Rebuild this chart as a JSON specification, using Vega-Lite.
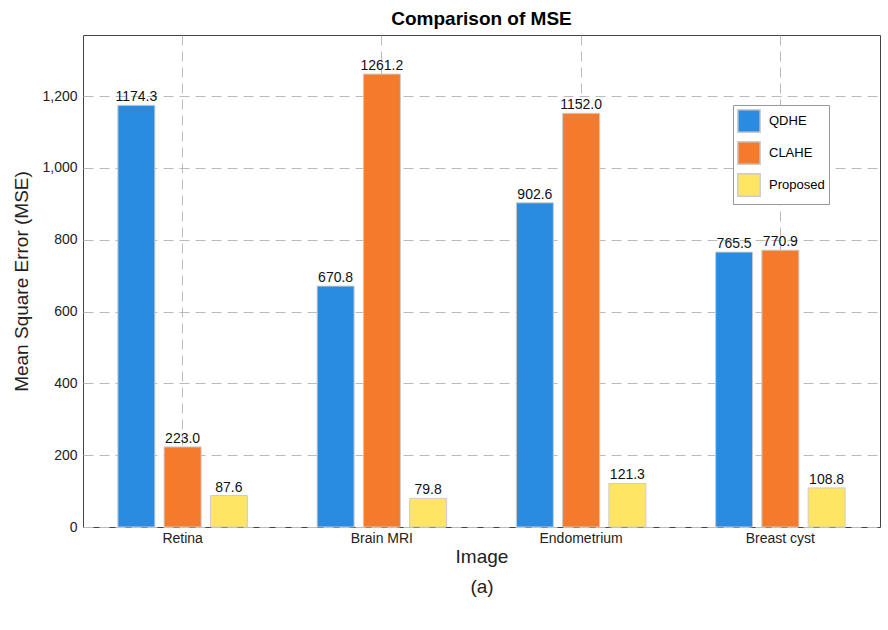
{
  "$schema": "https://vega.github.io/schema/vega-lite/v6.json",
  "width": 797,
  "height": 492,
  "autosize": {"type": "none"},
  "padding": {"left": 83, "top": 35, "right": 8, "bottom": 103},
  "background": "white",
  "title": {"text": "Comparison of MSE", "font": "Liberation Sans", "fontSize": 19, "fontWeight": "bold", "color": "black", "offset": 6},
  "data": {
    "values": [
      {"image": "Retina", "method": "QDHE", "mse": 1174.3},
      {"image": "Retina", "method": "CLAHE", "mse": 223.0},
      {"image": "Retina", "method": "Proposed", "mse": 87.6},
      {"image": "Brain MRI", "method": "QDHE", "mse": 670.8},
      {"image": "Brain MRI", "method": "CLAHE", "mse": 1261.2},
      {"image": "Brain MRI", "method": "Proposed", "mse": 79.8},
      {"image": "Endometrium", "method": "QDHE", "mse": 902.6},
      {"image": "Endometrium", "method": "CLAHE", "mse": 1152.0},
      {"image": "Endometrium", "method": "Proposed", "mse": 121.3},
      {"image": "Breast cyst", "method": "QDHE", "mse": 765.5},
      {"image": "Breast cyst", "method": "CLAHE", "mse": 770.9},
      {"image": "Breast cyst", "method": "Proposed", "mse": 108.8}
    ]
  },
  "config": {
    "font": "Liberation Sans",
    "view": {"stroke": "#444", "strokeWidth": 1},
    "axis": {
      "labelFont": "Liberation Sans", "labelFontSize": 14, "labelColor": "#222",
      "titleFont": "Liberation Sans", "titleFontSize": 19, "titleFontWeight": "normal", "titleColor": "#222",
      "grid": true, "gridDash": [10, 6], "gridColor": "#bbb", "gridWidth": 1,
      "domain": false, "tickColor": "#444"
    }
  },
  "encoding": {
    "x": {
      "field": "image", "type": "nominal", "sort": ["Retina", "Brain MRI", "Endometrium", "Breast cyst"],
      "scale": {"paddingInner": 0.35, "paddingOuter": 0.175},
      "axis": {"title": ["Image", "(a)"], "labelAngle": 0, "bandPosition": 0.5, "labelPadding": 4, "titleLineHeight": 30, "titlePadding": 2, "tickSize": 0}
    },
    "xOffset": {"field": "method", "type": "nominal", "sort": ["QDHE", "CLAHE", "Proposed"], "scale": {"paddingInner": 0.2}},
    "y": {
      "field": "mse", "type": "quantitative",
      "scale": {"domain": [0, 1370], "nice": false},
      "axis": {"title": "Mean Square Error (MSE)", "values": [0, 200, 400, 600, 800, 1000, 1200], "tickSize": 0, "labelPadding": 6, "titlePadding": 10}
    }
  },
  "layer": [
    {
      "mark": {"type": "bar", "stroke": "#ccc", "strokeWidth": 1},
      "encoding": {
        "color": {
          "field": "method", "type": "nominal", "sort": ["QDHE", "CLAHE", "Proposed"],
          "scale": {"domain": ["QDHE", "CLAHE", "Proposed"], "range": ["#2a8ce0", "#f47a2c", "#ffe563"]},
          "legend": {
            "title": null, "orient": "none", "legendX": 650, "legendY": 70,
            "symbolType": "square", "symbolSize": 500, "labelFontSize": 13, "labelFont": "Liberation Sans",
            "fillColor": "white", "strokeColor": "#999", "padding": 4, "rowPadding": 2, "labelOffset": 8
          }
        }
      }
    },
    {
      "mark": {"type": "text", "baseline": "bottom", "dy": -1, "fontSize": 14, "color": "#111"},
      "encoding": {"text": {"field": "mse", "type": "quantitative", "format": ".1f"}}
    }
  ]
}
